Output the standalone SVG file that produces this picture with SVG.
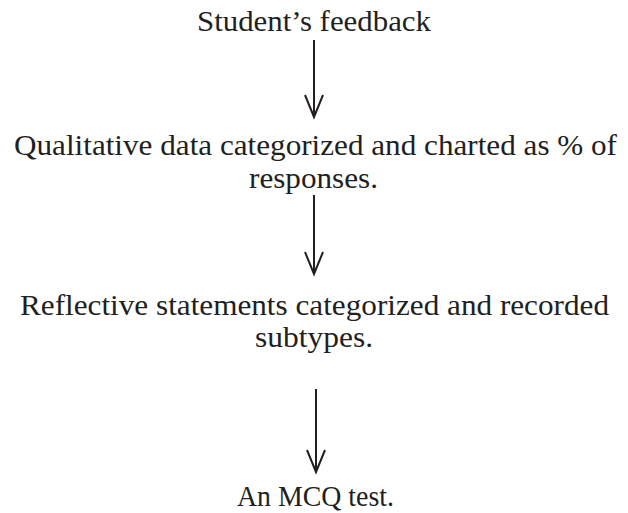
<svg xmlns="http://www.w3.org/2000/svg" width="628" height="513" viewBox="0 0 628 513">
<style>
text{font-family:"Liberation Serif","DejaVu Serif",serif;font-size:30px;fill:#231f20;text-anchor:middle}
.c line,.c path{stroke:#231f20;stroke-width:2;fill:none}
</style>
<rect width="628" height="513" fill="#fff"/>
<g id="n1"><text x="314" y="31" textLength="234" lengthAdjust="spacingAndGlyphs">Student’s feedback</text></g>
<g id="n2"><text x="315.5" y="155" textLength="603" lengthAdjust="spacingAndGlyphs">Qualitative data categorized and charted as % of</text><text x="313.5" y="188" textLength="129" lengthAdjust="spacingAndGlyphs">responses.</text></g>
<g id="n3"><text x="314.5" y="315" textLength="589" lengthAdjust="spacingAndGlyphs">Reflective statements categorized and recorded</text><text x="314" y="347" textLength="118" lengthAdjust="spacingAndGlyphs">subtypes.</text></g>
<g id="n4"><text x="315.5" y="506" textLength="157" lengthAdjust="spacingAndGlyphs">An MCQ test.</text></g>
<g class="c" id="connectors">
<line x1="314" y1="40" x2="314" y2="116"/><path d="M305 95 L314 117 L323 95"/>
<line x1="314" y1="195" x2="314" y2="273"/><path d="M305 252 L314 274 L323 252"/>
<line x1="316" y1="389" x2="316" y2="471"/><path d="M307 450 L316 472 L325 450"/>
</g>
</svg>
